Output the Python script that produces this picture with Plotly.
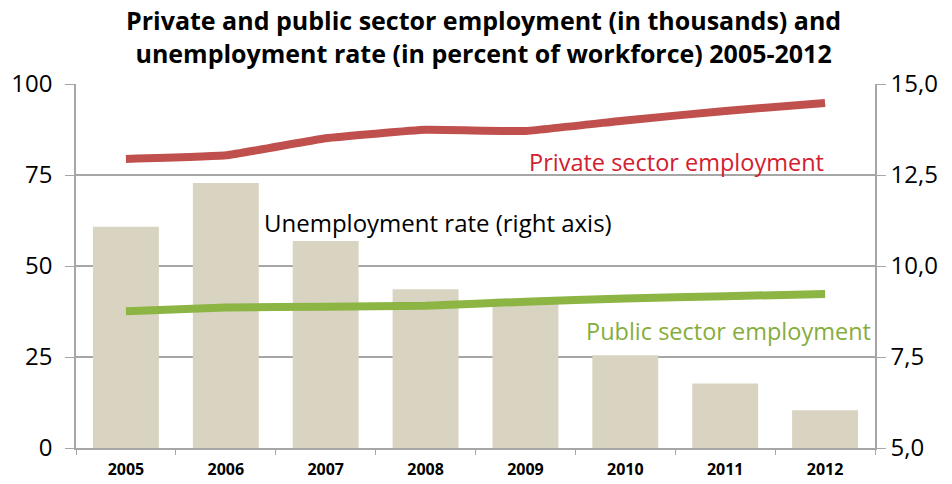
import plotly.graph_objects as go

# Data
years = ["2005", "2006", "2007", "2008", "2009", "2010", "2011", "2012"]
unemployment_rate = [11.08, 12.28, 10.69, 9.36, 9.1, 7.55, 6.77, 6.04]      # percent, right axis
private_employment = [79.4, 80.4, 85.1, 87.4, 87.1, 90.0, 92.6, 94.8]      # thousands, left axis
public_employment = [37.6, 38.6, 38.8, 39.1, 40.2, 41.1, 41.7, 42.3]       # thousands, left axis
left_ticks = [0, 25, 50, 75, 100]
right_tickvals = [5.0, 7.5, 10.0, 12.5, 15.0]
right_ticktext = ["5,0", "7,5", "10,0", "12,5", "15,0"]

FONT = "Open Sans"
GRID = "#a6a6a6"
BAR = "#d9d4c1"
RED = "#c0504d"
GREEN = "#8cb544"

W, H = 952, 484
L, R, T, B = 76, 77, 84, 36
pw = W - L - R
ph = H - T - B


def px(x):
    return (x - L) / pw


def py(y):
    return 1 - (y - T) / ph


fig = go.Figure()

fig.add_trace(go.Bar(
    x=years, y=unemployment_rate, marker_color=BAR, marker_line_width=0,
    yaxis="y", name="Unemployment rate",
))
fig.add_trace(go.Scatter(
    x=years, y=private_employment, mode="lines", yaxis="y2",
    line=dict(color=RED, width=8, shape="spline", smoothing=0.3),
    name="Private sector employment",
))
fig.add_trace(go.Scatter(
    x=years, y=public_employment, mode="lines", yaxis="y2",
    line=dict(color=GREEN, width=8, shape="spline", smoothing=0.3),
    name="Public sector employment",
))

fig.update_layout(
    width=W, height=H,
    margin=dict(l=L, r=R, t=T, b=B),
    paper_bgcolor="white", plot_bgcolor="white",
    showlegend=False,
    bargap=0.34,
    font=dict(family=FONT, color="#000000"),
    xaxis=dict(
        type="category", tickson="boundaries", ticks="outside", ticklen=5,
        tickcolor=GRID, showline=True, linecolor=GRID, linewidth=1.5,
        showgrid=False, tickfont=dict(size=16, family=FONT, weight="bold"),
        ticklabelstandoff=6, automargin=False,
    ),
    yaxis=dict(
        side="right", range=[5, 15], tickvals=right_tickvals, ticktext=right_ticktext,
        showgrid=True, gridcolor=GRID, gridwidth=1.5, zeroline=False,
        showline=True, linecolor=GRID, linewidth=1.5,
        ticks="outside", ticklen=9, tickcolor=GRID,
        tickfont=dict(size=24, family=FONT), fixedrange=True, automargin=False,
    ),
    yaxis2=dict(
        side="left", overlaying="y", range=[0, 100], tickvals=left_ticks,
        showgrid=False, zeroline=False,
        showline=True, linecolor=GRID, linewidth=1.5,
        ticks="outside", ticklen=9, tickcolor=GRID,
        tickfont=dict(size=24, family=FONT), ticklabelstandoff=8, automargin=False,
    ),
)

fig.add_annotation(
    text="<b>Private and public sector employment (in thousands) and<br>"
         "unemployment rate (in percent of workforce) 2005-2012</b>",
    xref="paper", yref="paper", x=px(483), y=py(36), xanchor="center", yanchor="middle",
    showarrow=False, font=dict(size=25, family=FONT, color="#000000"),
)
fig.add_annotation(
    text="Unemployment rate (right axis)", xref="paper", yref="paper",
    x=px(262), y=py(222), xanchor="left", yanchor="middle", showarrow=False,
    font=dict(size=24, family=FONT, color="#000000"),
)
fig.add_annotation(
    text="Private sector employment", xref="paper", yref="paper",
    x=px(826), y=py(162), xanchor="right", yanchor="middle", showarrow=False,
    font=dict(size=23.5, family=FONT, color="#d2202f"),
)
fig.add_annotation(
    text="Public sector employment", xref="paper", yref="paper",
    x=px(873), y=py(331), xanchor="right", yanchor="middle", showarrow=False,
    font=dict(size=23.5, family=FONT, color="#86ad3c"),
)

fig.write_html("out.html")
